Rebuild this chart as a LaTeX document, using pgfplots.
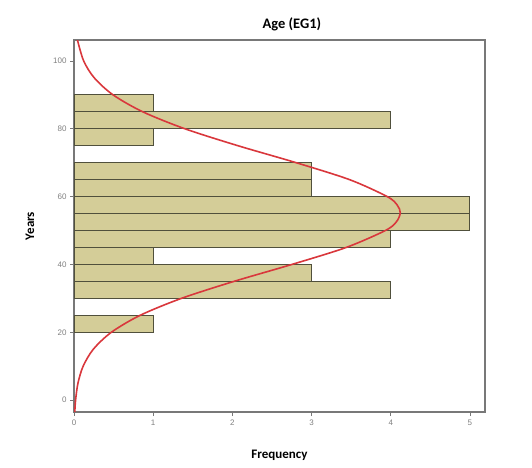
\documentclass[border=0pt]{standalone}
\usepackage{pgfplots}
\pgfplotsset{compat=1.18}
\usepackage{fontspec}
\setmainfont{Carlito}
\newfontfamily\tickfont{Liberation Sans}
\definecolor{barfill}{RGB}{212,205,152}
\definecolor{baredge}{RGB}{80,80,60}
\definecolor{curvered}{RGB}{217,55,60}
\definecolor{framegray}{RGB}{120,120,120}
\begin{document}
\begin{tikzpicture}[x=1pt,y=1pt]
\path (0,0) rectangle (532,467);
\begin{axis}[
  at={(74pt,55pt)}, anchor=south west,
  scale only axis, width=411pt, height=372pt,
  xmin=0, xmax=5.19, ymin=-3.5, ymax=106.2,
  xtick={0,1,2,3,4,5}, ytick={0,20,40,60,80,100},
  tick pos=left, tick align=outside,
  major tick length=4pt,
  /pgf/number format/assume math mode=true,
  every tick/.style={framegray, line width=0.8pt},
  axis line style={framegray, line width=1.2pt},
  ticklabel style={font=\tickfont\fontsize{8}{9}\selectfont, text=gray},
  title={\textbf{Age (EG1)}},
  title style={font=\fontsize{14.5}{16}\selectfont, at={(0.53,1)}, anchor=south, yshift=0pt},
  xlabel={\textbf{Frequency}},
  xlabel style={font=\fontsize{13}{15}\selectfont, yshift=-18pt},
  ylabel={\textbf{Years}},
  ylabel style={font=\fontsize{13}{15}\selectfont, yshift=12pt},
  clip=true,
]
\addplot[xbar, bar width=5, bar shift=0pt, fill=barfill, draw=baredge, line width=1pt]
coordinates {
(1,22.5) (4,32.5) (3,37.5) (1,42.5) (4,47.5) (5,52.5) (5,57.5) (3,62.5) (3,67.5) (1,77.5) (4,82.5) (1,87.5)
};
\addplot[curvered, line width=1.6pt, smooth] coordinates {
(0.0099,-3.5) (0.0199,0) (0.0500,5) (0.1152,10) (0.2434,15) (0.471,20) (0.834,25) (1.355,30) (2.017,35) (2.749,40) (3.434,45) (3.930,50) (4.068,52.5) (4.12,55.2) (4.082,57.5) (3.957,60) (3.482,65) (2.808,70) (2.074,75) (1.403,80) (0.8707,85) (0.4944,90) (0.2574,95) (0.1227,100) (0.0434,106.2)
};
\end{axis}
\end{tikzpicture}
\end{document}
